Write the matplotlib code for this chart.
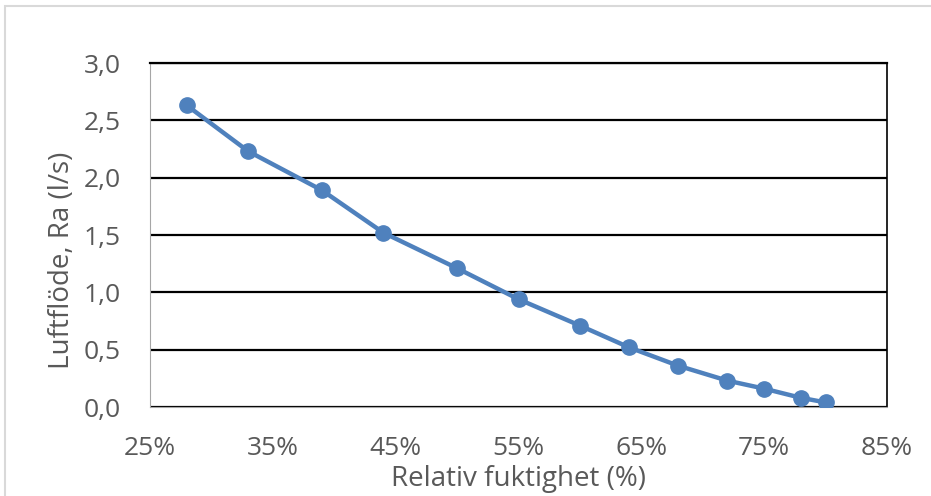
import matplotlib.pyplot as plt
from matplotlib.patches import Rectangle
from matplotlib.ticker import FuncFormatter

# data
rh_pct = [28, 33, 39, 44, 50, 55, 60, 64, 68, 72, 75, 78, 80]
flow_ls = [2.63, 2.23, 1.89, 1.52, 1.21, 0.94, 0.71, 0.52, 0.36, 0.23, 0.16, 0.08, 0.04]
x_ticks = [25, 35, 45, 55, 65, 75, 85]
y_ticks = [0.0, 0.5, 1.0, 1.5, 2.0, 2.5, 3.0]

plt.rcParams['font.family'] = ['Open Sans', 'DejaVu Sans']
grey_text = '#595959'

fig = plt.figure(figsize=(9.31, 4.96), dpi=100)
ax = fig.add_axes([150 / 931, 1 - 407 / 496, 737 / 931, 344 / 496])

# outer chart border (light grey)
fig.patches.append(Rectangle((5 / 931, -0.1), 1.2, 1 - 6 / 496 + 0.1,
                             transform=fig.transFigure, fill=False,
                             edgecolor='#d9d9d9', linewidth=1.5))

ax.plot(rh_pct, flow_ls, color='#4f81bd', linewidth=3.2,
        marker='o', markersize=11, zorder=3)

ax.set_xlim(25, 85)
ax.set_ylim(0, 3.0)
ax.set_xticks(x_ticks)
ax.set_yticks(y_ticks)
ax.xaxis.set_major_formatter(FuncFormatter(lambda v, p: f'{v:.0f}%'))
ax.yaxis.set_major_formatter(FuncFormatter(lambda v, p: f'{v:.1f}'.replace('.', ',')))

ax.grid(axis='y', color='black', linewidth=1.6, zorder=1)
ax.set_axisbelow(True)

ax.spines['left'].set_color('#a6a6a6')
ax.spines['bottom'].set_color('#a6a6a6')
ax.spines['right'].set_color('black')
ax.spines['top'].set_color('black')
ax.spines['top'].set_linewidth(1.6)
ax.spines['right'].set_linewidth(1.2)

ax.tick_params(axis='x', length=0, pad=21, labelsize=19, labelcolor=grey_text)
ax.tick_params(axis='y', length=0, pad=21, labelsize=19, labelcolor=grey_text)

ax.set_xlabel('Relativ fuktighet (%)', fontsize=20, color=grey_text, va='center')
ax.xaxis.set_label_coords(0.5, -(479 - 407) / 344)
ax.set_ylabel('Luftflöde, Ra (l/s)', fontsize=20, color=grey_text, va='center')
ax.yaxis.set_label_coords(-(150 - 62) / 737, (407 - 260) / 344)

fig.savefig('out.png', dpi=100)
